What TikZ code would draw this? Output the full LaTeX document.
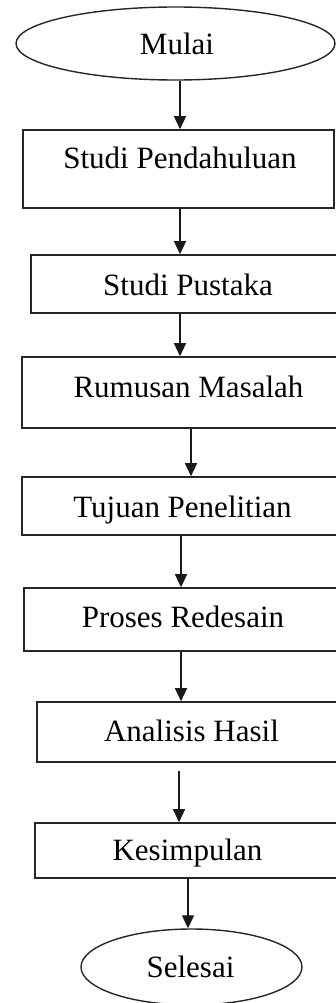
\documentclass[tikz,border=0pt]{standalone}
\usepackage{fontspec}
\setmainfont{Liberation Serif}
\usetikzlibrary{arrows.meta,shapes.geometric}
\begin{document}
\begin{tikzpicture}[x=1pt,y=-1pt,
  box/.style={draw=black!85,line width=1.6pt,rectangle,inner sep=0pt},
  term/.style={draw=black!85,line width=1.4pt,ellipse,inner sep=0pt},
  txt/.style={anchor=base,inner sep=0pt,font=\fontsize{31}{36}\selectfont},
  arr/.style={draw=black!90,line width=1.3pt,-{Triangle[length=13pt,width=12pt]}}]
\useasboundingbox (0,0) rectangle (336,1003);
\clip (0,0) rectangle (336,1003);
% shapes
\node[term,minimum width=319pt,minimum height=73pt] (m) at (175.5,43.5) {};
\node[box,minimum width=311pt,minimum height=78pt] (b1) at (178.5,169) {};
\node[box,minimum width=314pt,minimum height=58pt] (b2) at (188,284) {};
\node[box,minimum width=323pt,minimum height=71pt] (b3) at (183.5,392.5) {};
\node[box,minimum width=323pt,minimum height=58pt] (b4) at (183.5,506) {};
\node[box,minimum width=321pt,minimum height=63pt] (b5) at (184.5,619.5) {};
\node[box,minimum width=308pt,minimum height=60pt] (b6) at (191,732) {};
\node[box,minimum width=310pt,minimum height=55pt] (b7) at (190,850.5) {};
\node[term,minimum width=221pt,minimum height=76pt] (s) at (191.5,967) {};
% texts
\node[txt] (tm) at (177,55) {Mulai};
\node[txt] (t1) at (180,168) {Studi Pendahuluan};
\node[txt] (t2) at (188,295) {Studi Pustaka};
\node[txt] (t3) at (188.5,397) {Rumusan Masalah};
\node[txt] (t4) at (182.5,517) {Tujuan Penelitian};
\node[txt] (t5) at (183,627) {Proses Redesain};
\node[txt] (t6) at (191.5,741) {Analisis Hasil};
\node[txt] (t7) at (187.5,860) {Kesimpulan};
\node[txt] (ts) at (190.5,977) {Selesai};
% arrow x positions
\coordinate (x1) at (180,0);
\coordinate (x2) at (180,0);
\coordinate (x3) at (180,0);
\coordinate (x4) at (191,0);
\coordinate (x5) at (181,0);
\coordinate (x6) at (181,0);
\coordinate (x7) at (179,0);
\coordinate (x8) at (188,0);
\draw[arr] (m.south -| x1) -- (b1.north -| x1);
\draw[arr] (b1.south -| x2) -- (b2.north -| x2);
\draw[arr] (b2.south -| x3) -- (b3.north -| x3);
\draw[arr] (b3.south -| x4) -- (b4.north -| x4);
\draw[arr] (b4.south -| x5) -- (b5.north -| x5);
\draw[arr] (b5.south -| x6) -- (b6.north -| x6);
\draw[arr,shorten <=8pt] (b6.south -| x7) -- (b7.north -| x7);
\draw[arr] (b7.south -| x8) -- (s.north -| x8);
\end{tikzpicture}
\end{document}
